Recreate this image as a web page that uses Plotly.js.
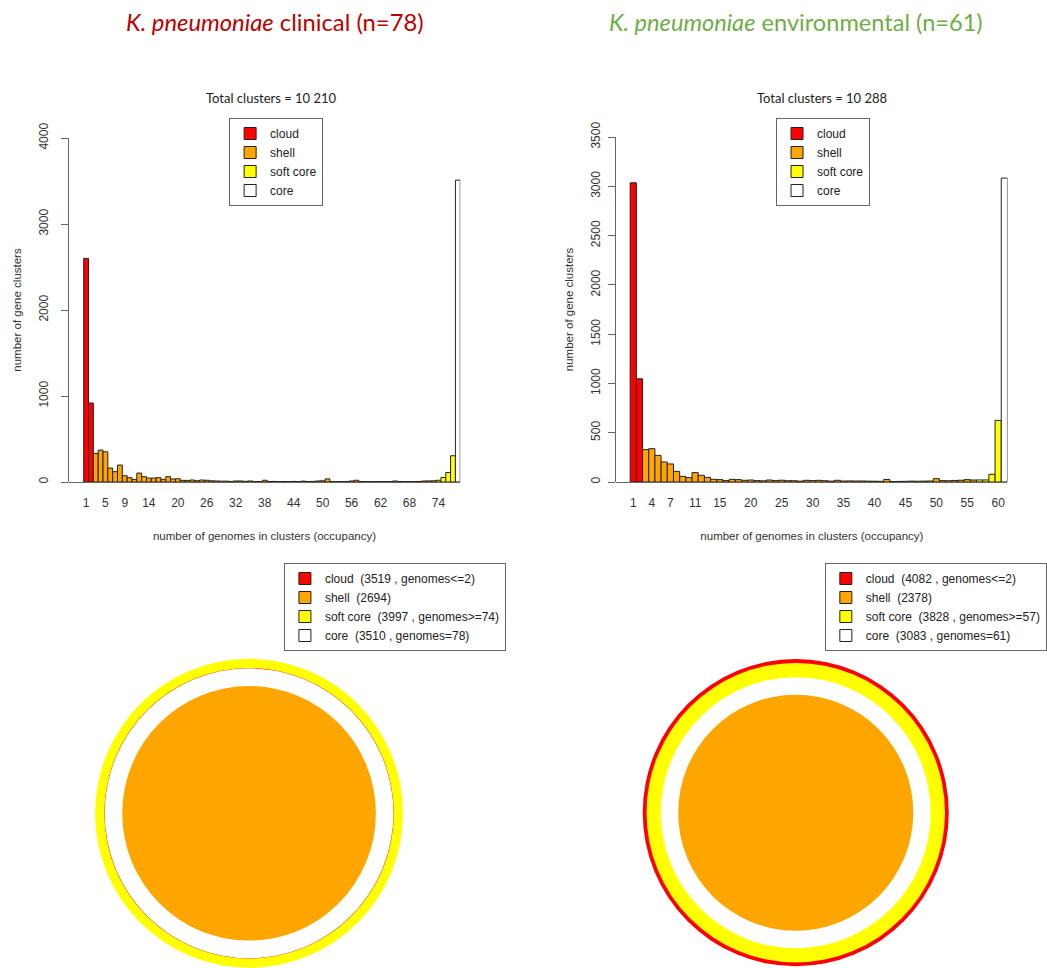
<!DOCTYPE html>
<html><head><meta charset="utf-8">
<script src="https://cdn.plot.ly/plotly-3.0.1.min.js"></script>
<style>html,body{margin:0;padding:0;background:#fff}#chart{width:1047px;height:968px}</style>
</head><body><div id="chart"></div>
<script>
// ---------- data ----------
const classNames = ['cloud', 'shell', 'soft core', 'core'];

const clinicalGenomes = 78;
const clinicalCounts = [2600, 919, 332, 371, 351, 162, 120, 197, 73, 50,
  31, 104, 62, 46, 46, 50, 31, 62, 35, 38,
  19, 19, 23, 15, 23, 20, 14, 12, 10, 10,
  7, 12, 12, 8, 12, 6, 5, 20, 6, 7,
  5, 6, 5, 7, 5, 10, 6, 7, 12, 14,
  36, 5, 4, 5, 6, 12, 20, 6, 4, 4,
  5, 4, 4, 5, 12, 6, 4, 4, 5, 6,
  12, 13, 14, 20, 52, 110, 305, 3510];
const clinicalTotals = [3519, 2694, 3997, 3510];
const clinicalCloudMax = 2;
const clinicalSoftCoreMin = 74;
const clinicalTotalClusters = '10 210';
const clinicalTicks = [1, 5, 9, 14, 20, 26, 32, 38, 44, 50, 56, 62, 68, 74];
const clinicalYTicks = [0, 1000, 2000, 3000, 4000];

const environmentalGenomes = 61;
const environmentalCounts = [3035, 1047, 328, 338, 270, 203, 183, 108, 57, 44,
  95, 68, 47, 27, 24, 14, 27, 24, 17, 20,
  14, 12, 20, 14, 18, 13, 13, 9, 17, 14,
  17, 13, 9, 17, 10, 11, 10, 10, 9, 8,
  7, 26, 5, 6, 7, 9, 8, 9, 10, 34,
  14, 13, 16, 18, 24, 20, 21, 21, 78, 625,
  3083];
const environmentalTotals = [4082, 2378, 3828, 3083];
const environmentalCloudMax = 2;
const environmentalSoftCoreMin = 57;
const environmentalTotalClusters = '10 288';
const environmentalTicks = [1, 4, 7, 11, 15, 20, 25, 30, 35, 40, 45, 50, 55, 60];
const environmentalYTicks = [0, 500, 1000, 1500, 2000, 2500, 3000, 3500];

// concentric circle plot: classes drawn from outside to inside, with radii
const clinicalRingClasses = ['soft core', 'cloud', 'core', 'shell'];
const clinicalRingRadii = [154.5, 145.3, 145, 127.3];
const environmentalRingClasses = ['cloud', 'soft core', 'core', 'shell'];
const environmentalRingRadii = [153.6, 149.8, 135.5, 118];

// ---------- styling ----------
const classColors = {'cloud': '#FF0000', 'shell': '#FFA500', 'soft core': '#FFFF00', 'core': '#FFFFFF'};
const W = 1047, H = 968;
const FONT = 'Liberation Sans, Arial, sans-serif';
const TFONT = 'Lato, Open Sans, sans-serif';
const px = v => v / W, py = v => 1 - v / H;

function classOf(occ, n, cloudMax, softMin) {
  if (occ <= cloudMax) return 'cloud';
  if (occ === n) return 'core';
  if (occ >= softMin) return 'soft core';
  return 'shell';
}

function histTraces(counts, n, cloudMax, softMin, xa, ya, legendName) {
  return classNames.map(cls => {
    const xs = [], ys = [];
    counts.forEach((c, i) => {
      const occ = i + 1;
      if (classOf(occ, n, cloudMax, softMin) === cls) { xs.push(occ); ys.push(c); }
    });
    return {
      type: 'bar', x: xs, y: ys, name: cls, xaxis: xa, yaxis: ya, width: 1,
      legend: legendName,
      marker: {color: classColors[cls], line: {color: '#222', width: 1}},
      hoverinfo: 'skip'
    };
  });
}

function summaryTraces(totals, cloudMax, softMin, n, xa, ya, legendName) {
  const labels = [
    'cloud\u00a0 (' + totals[0] + ' , genomes&lt;=' + cloudMax + ')',
    'shell\u00a0 (' + totals[1] + ')',
    'soft core\u00a0 (' + totals[2] + ' , genomes&gt;=' + softMin + ')',
    'core\u00a0 (' + totals[3] + ' , genomes=' + n + ')'
  ];
  return classNames.map((cls, i) => ({
    type: 'bar', x: [10000], y: [1], name: labels[i], xaxis: xa, yaxis: ya,
    legend: legendName, showlegend: true,
    marker: {color: classColors[cls], line: {color: '#222', width: 1}},
    hoverinfo: 'skip'
  }));
}

function ringShapes(classes, radii, xr, yr) {
  return classes.map((cls, i) => ({
    type: 'circle', xref: xr, yref: yr, layer: 'above',
    x0: -radii[i], x1: radii[i], y0: -radii[i], y1: radii[i],
    fillcolor: classColors[cls], line: {width: 0}
  }));
}

const traces = [].concat(
  histTraces(clinicalCounts, clinicalGenomes, clinicalCloudMax, clinicalSoftCoreMin, 'x', 'y', 'legend'),
  histTraces(environmentalCounts, environmentalGenomes, environmentalCloudMax, environmentalSoftCoreMin, 'x2', 'y2', 'legend2'),
  summaryTraces(clinicalTotals, clinicalCloudMax, clinicalSoftCoreMin, clinicalGenomes, 'x3', 'y3', 'legend3'),
  summaryTraces(environmentalTotals, environmentalCloudMax, environmentalSoftCoreMin, environmentalGenomes, 'x4', 'y4', 'legend4')
);

function xAxis(domain, range, ticks) {
  return {
    domain: domain, range: range, tickmode: 'array', tickvals: ticks, ticktext: ticks.map(String),
    ticks: '', showline: false, zeroline: false, showgrid: false, automargin: false,
    tickfont: {family: FONT, size: 12, color: '#333'}, ticklabelstandoff: 12,
    title: {text: 'number of genomes in clusters (occupancy)', font: {family: FONT, size: 11.5, color: '#333'}, standoff: 22},
    fixedrange: true
  };
}
function yAxis(domain, range, ticks, standoff) {
  return {
    domain: domain, range: range, tickmode: 'array', tickvals: ticks, ticktext: ticks.map(String),
    tickangle: -90, ticks: 'outside', ticklen: 7, tickcolor: '#666', tickwidth: 1,
    showline: true, linecolor: '#666', linewidth: 1, showgrid: false,
    zeroline: true, zerolinecolor: '#666', zerolinewidth: 1, automargin: false,
    tickfont: {family: FONT, size: 12, color: '#333'}, ticklabelstandoff: standoff,
    title: {text: 'number of gene clusters', font: {family: FONT, size: 11.5, color: '#333'}, standoff: 12},
    fixedrange: true
  };
}
const hidden = (domain, range) => ({domain: domain, range: range, visible: false, showgrid: false, zeroline: false, fixedrange: true});

function legendBox(x, y) {
  return {
    x: px(x), y: py(y), xanchor: 'left', yanchor: 'top', orientation: 'v', traceorder: 'normal',
    bgcolor: '#fff', bordercolor: '#666', borderwidth: 1, tracegroupgap: 0,
    font: {family: FONT, size: 12, color: '#222'}, itemclick: false, itemdoubleclick: false
  };
}

const histBottom = py(482);
const layout = {
  width: W, height: H, margin: {l: 0, r: 0, t: 0, b: 0},
  paper_bgcolor: '#fff', plot_bgcolor: 'rgba(0,0,0,0)',
  barmode: 'overlay', bargap: 0, hovermode: false, showlegend: true,
  xaxis: xAxis([px(69), px(462)], [-2.6, 78.5], clinicalTicks),
  yaxis: yAxis([histBottom, py(138)], [0, 4000], clinicalYTicks, 8),
  xaxis2: Object.assign(xAxis([px(618.7), px(1011.3)], [-1.74, 61.5], environmentalTicks), {anchor: 'y2'}),
  yaxis2: Object.assign(yAxis([histBottom, py(137)], [0, 3500], environmentalYTicks, 4), {anchor: 'x2'}),
  xaxis3: Object.assign(hidden([px(90), px(410)], [-160, 160]), {anchor: 'y3'}),
  yaxis3: Object.assign(hidden([0, py(650)], [-154.7, 163.3]), {anchor: 'x3'}),
  xaxis4: Object.assign(hidden([px(638.8), px(958.8)], [-160, 160]), {anchor: 'y4'}),
  yaxis4: Object.assign(hidden([0, py(650)], [-155.3, 162.7]), {anchor: 'x4'}),
  legend: legendBox(230, 118),
  legend2: legendBox(779, 118),
  legend3: legendBox(285, 563),
  legend4: legendBox(828, 563),
  shapes: [].concat(
    ringShapes(clinicalRingClasses, clinicalRingRadii, 'x3', 'y3'),
    ringShapes(environmentalRingClasses, environmentalRingRadii, 'x4', 'y4')
  ),
  annotations: [
    {text: '<i>K. pneumoniae</i> clinical (n=' + clinicalGenomes + ')', x: px(276), y: py(22), xref: 'paper', yref: 'paper',
     showarrow: false, xanchor: 'center', yanchor: 'middle', font: {family: TFONT, size: 23.8, color: '#C00000'}},
    {text: '<i>K. pneumoniae</i> environmental (n=' + environmentalGenomes + ')', x: px(799), y: py(22), xref: 'paper', yref: 'paper',
     showarrow: false, xanchor: 'center', yanchor: 'middle', font: {family: TFONT, size: 23.6, color: '#70AD47'}},
    {text: 'Total clusters = ' + clinicalTotalClusters, x: px(273), y: py(98), xref: 'paper', yref: 'paper',
     showarrow: false, xanchor: 'center', yanchor: 'middle', font: {family: TFONT, size: 13, color: '#222'}},
    {text: 'Total clusters = ' + environmentalTotalClusters, x: px(825), y: py(98), xref: 'paper', yref: 'paper',
     showarrow: false, xanchor: 'center', yanchor: 'middle', font: {family: TFONT, size: 13, color: '#222'}}
  ]
};

Plotly.newPlot('chart', traces, layout, {staticPlot: true, displayModeBar: false});
</script>
</body></html>
